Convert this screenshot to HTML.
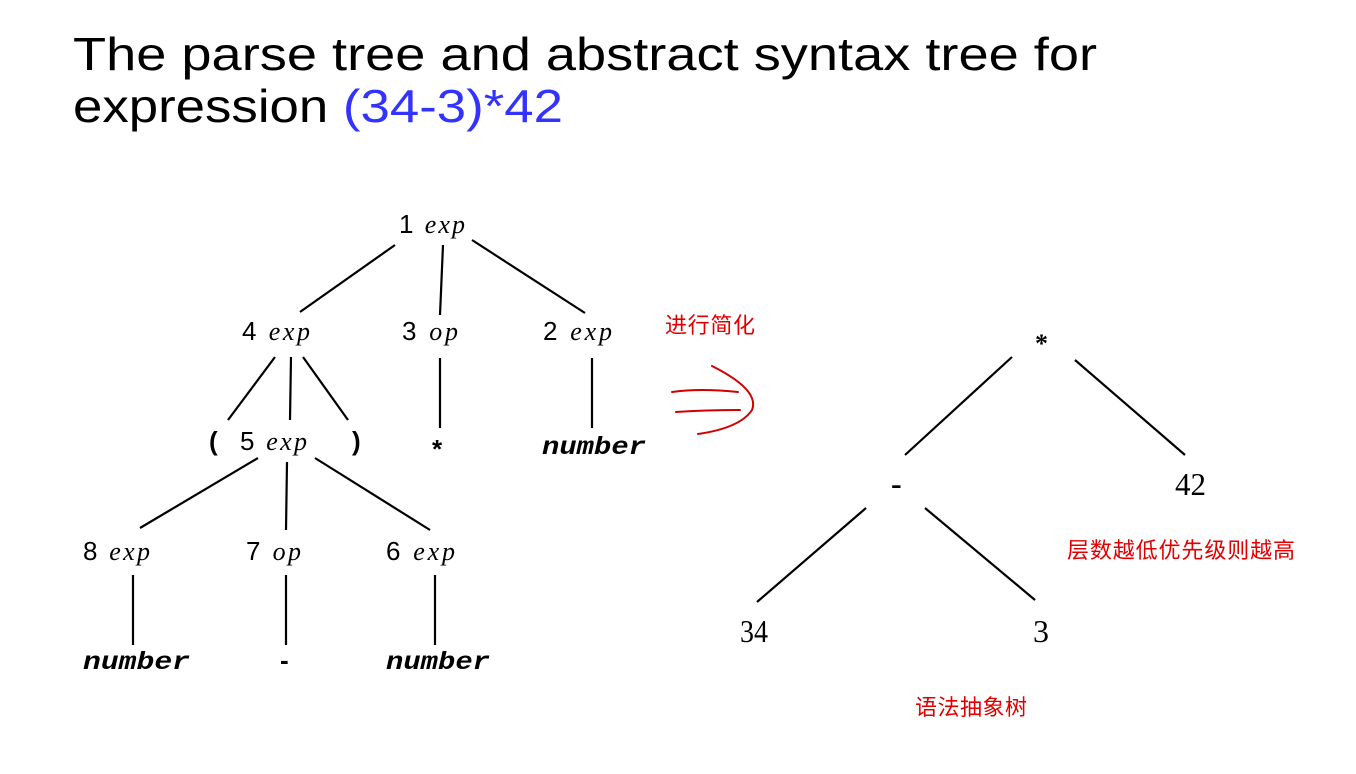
<!DOCTYPE html>
<html><head><meta charset="utf-8"><style>
html,body{margin:0;padding:0;background:#fff;width:1356px;height:774px;overflow:hidden}
</style></head><body>
<svg width="1356" height="774" viewBox="0 0 1356 774" xmlns="http://www.w3.org/2000/svg">
<g font-family="Liberation Sans, sans-serif" font-size="46" fill="#000">
<text x="73" y="70" textLength="1024" lengthAdjust="spacingAndGlyphs">The parse tree and abstract syntax tree for</text>
<text x="73" y="122" textLength="490" lengthAdjust="spacingAndGlyphs">expression <tspan fill="#3333ff">(34-3)*42</tspan></text>
</g>
<g stroke="#000" stroke-width="2.2" fill="none">
<line x1="395" y1="245" x2="300" y2="312"/>
<line x1="443" y1="245" x2="440" y2="315"/>
<line x1="472" y1="240" x2="585" y2="313"/>
<line x1="275" y1="357" x2="228" y2="420"/>
<line x1="291" y1="357" x2="290" y2="420"/>
<line x1="303" y1="357" x2="348" y2="420"/>
<line x1="440" y1="358" x2="440" y2="428"/>
<line x1="592" y1="358" x2="592" y2="428"/>
<line x1="258" y1="458" x2="140" y2="528"/>
<line x1="287" y1="462" x2="286" y2="530"/>
<line x1="315" y1="458" x2="430" y2="530"/>
<line x1="133" y1="575" x2="133" y2="645"/>
<line x1="286" y1="575" x2="286" y2="645"/>
<line x1="435" y1="575" x2="435" y2="645"/>
</g>
<g fill="#000" font-size="26">
<text x="399" y="233" font-family="Liberation Sans, sans-serif" textLength="66">1 <tspan font-family="Liberation Serif, serif" font-style="italic">exp</tspan></text>
<text x="242" y="340" font-family="Liberation Sans, sans-serif" textLength="68">4 <tspan font-family="Liberation Serif, serif" font-style="italic">exp</tspan></text>
<text x="402" y="340" font-family="Liberation Sans, sans-serif" textLength="56">3 <tspan font-family="Liberation Serif, serif" font-style="italic">op</tspan></text>
<text x="543" y="340" font-family="Liberation Sans, sans-serif" textLength="69">2 <tspan font-family="Liberation Serif, serif" font-style="italic">exp</tspan></text>
<text x="209" y="450" font-family="Liberation Sans, sans-serif" font-weight="bold">(</text>
<text x="240" y="450" font-family="Liberation Sans, sans-serif" textLength="67">5 <tspan font-family="Liberation Serif, serif" font-style="italic">exp</tspan></text>
<text x="352" y="450" font-family="Liberation Sans, sans-serif" font-weight="bold">)</text>
<text x="432" y="458" font-family="Liberation Sans, sans-serif" font-weight="bold">*</text>
<text x="542" y="454" font-family="Liberation Mono, monospace" font-weight="bold" font-style="italic" font-size="25" textLength="104" lengthAdjust="spacingAndGlyphs">number</text>
<text x="83" y="560" font-family="Liberation Sans, sans-serif" textLength="67">8 <tspan font-family="Liberation Serif, serif" font-style="italic">exp</tspan></text>
<text x="246" y="560" font-family="Liberation Sans, sans-serif" textLength="55">7 <tspan font-family="Liberation Serif, serif" font-style="italic">op</tspan></text>
<text x="386" y="560" font-family="Liberation Sans, sans-serif" textLength="69">6 <tspan font-family="Liberation Serif, serif" font-style="italic">exp</tspan></text>
<text x="83" y="669" font-family="Liberation Mono, monospace" font-weight="bold" font-style="italic" font-size="25" textLength="107" lengthAdjust="spacingAndGlyphs">number</text>
<text x="280" y="669" font-family="Liberation Sans, sans-serif" font-weight="bold">-</text>
<text x="386" y="669" font-family="Liberation Mono, monospace" font-weight="bold" font-style="italic" font-size="25" textLength="104" lengthAdjust="spacingAndGlyphs">number</text>
</g>
<g stroke="#000" stroke-width="2.2" fill="none">
<line x1="1012" y1="357" x2="905" y2="455"/>
<line x1="1075" y1="360" x2="1185" y2="455"/>
<line x1="866" y1="508" x2="757" y2="602"/>
<line x1="925" y1="508" x2="1035" y2="600"/>
</g>
<g fill="#000" font-family="Liberation Serif, serif" font-size="32">
<text x="1035" y="352" font-weight="bold" font-size="26">*</text>
<text x="891" y="494" font-weight="bold">-</text>
<text x="1175" y="495" textLength="31" lengthAdjust="spacingAndGlyphs">42</text>
<text x="740" y="642" textLength="28" lengthAdjust="spacingAndGlyphs">34</text>
<text x="1033" y="642">3</text>
</g>
<g fill="#e00000" font-family="Liberation Sans, Noto Sans CJK SC, sans-serif" font-size="22">
<text x="665" y="333" textLength="90">进行简化</text>
<text x="1067" y="558" textLength="228">层数越低优先级则越高</text>
<text x="915" y="715" textLength="112">语法抽象树</text>
</g>
<g stroke="#d00000" stroke-width="2" fill="none" stroke-linecap="round">
<path d="M672 392 Q700 388 738 392"/>
<path d="M676 412 Q705 410 740 410"/>
<path d="M712 366 Q760 390 752 410 Q740 428 698 434"/>
</g>
</svg>
</body></html>
